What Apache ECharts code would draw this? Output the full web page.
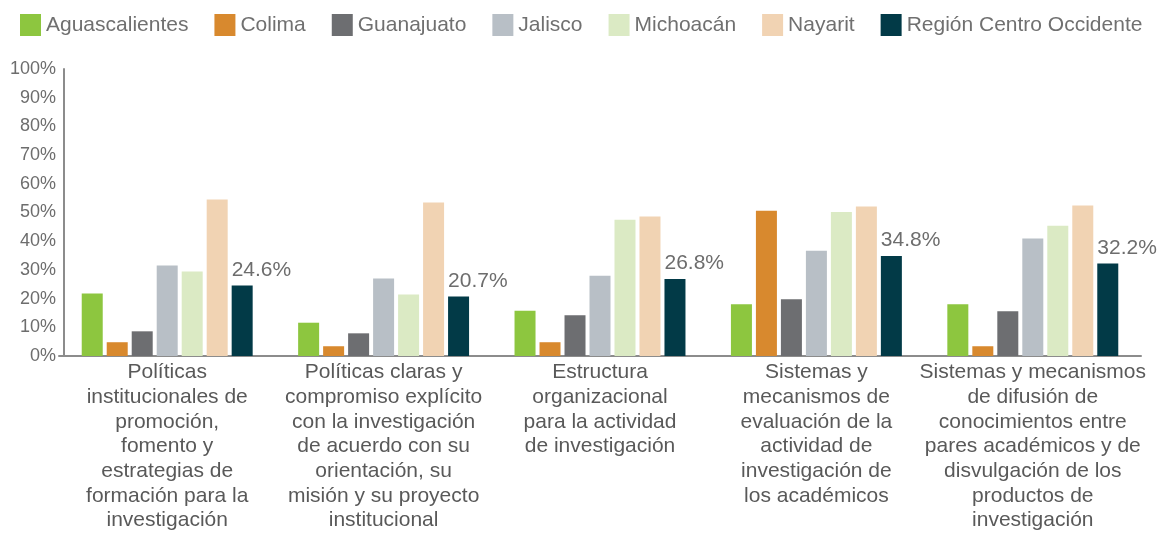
<!DOCTYPE html>
<html>
<head>
<meta charset="utf-8">
<script src="https://cdn.jsdelivr.net/npm/echarts@6/dist/echarts.min.js"></script>
<style>
  html, body { margin: 0; padding: 0; background: #fff; }
  #chart { width: 1160px; height: 533px; }
</style>
</head>
<body>
<div id="chart"></div>
<script>
// categorías del eje x (con saltos de línea como en el original)
const categories = [
  'Políticas\ninstitucionales de\npromoción,\nfomento y\nestrategias de\nformación para la\ninvestigación',
  'Políticas claras y\ncompromiso explícito\ncon la investigación\nde acuerdo con su\norientación, su\nmisión y su proyecto\ninstitucional',
  'Estructura\norganizacional\npara la actividad\nde investigación',
  'Sistemas y\nmecanismos de\nevaluación de la\nactividad de\ninvestigación de\nlos académicos',
  'Sistemas y mecanismos\nde difusión de\nconocimientos entre\npares académicos y de\ndisvulgación de los\nproductos de\ninvestigación'
]

const aguascalientes = [21.8, 11.6, 15.8, 18.0, 18.0]
const colima = [4.8, 3.4, 4.8, 50.6, 3.4]
const guanajuato = [8.6, 7.9, 14.2, 19.8, 15.6]
const jalisco = [31.5, 27.0, 28.0, 36.7, 40.9]
const michoacan = [29.4, 21.4, 47.5, 50.2, 45.4]
const nayarit = [54.5, 53.5, 48.6, 52.1, 52.4]
const region = [24.6, 20.7, 26.8, 34.8, 32.2]

const yTicks = { min: 0, max: 100, interval: 10 }

const names = ['Aguascalientes', 'Colima', 'Guanajuato', 'Jalisco', 'Michoacán', 'Nayarit', 'Región Centro Occidente']
const colors = ['#8dc63f', '#d8892e', '#6d6e71', '#b8bfc6', '#dbeac4', '#f1d3b3', '#023a47']
const values = [aguascalientes, colima, guanajuato, jalisco, michoacan, nayarit, region]

const font = 'Liberation Sans, Arial, sans-serif'

const series = names.map((name, i) => {
  const s = {
    name: name,
    type: 'bar',
    data: values[i],
    barWidth: 21,
    barGap: '19%',
    itemStyle: { color: colors[i] }
  }
  if (i === names.length - 1) {
    s.label = {
      show: true,
      position: 'top',
      align: 'left',
      offset: [-10.5, 0],
      fontFamily: font,
      fontSize: 21,
      color: '#6d6d6d',
      formatter: p => p.value.toFixed(1) + '%'
    }
  }
  return s
})

const chart = echarts.init(document.getElementById('chart'))
chart.setOption({
  animation: false,
  legend: {
    top: 9,
    left: 15,
    itemWidth: 21,
    itemHeight: 22,
    itemGap: 26,
    icon: 'rect',
    textStyle: { fontFamily: font, fontSize: 21, color: '#707070' },
    data: names
  },
  grid: { left: 59, right: 19, top: 69, bottom: 177 },
  xAxis: {
    type: 'category',
    data: categories,
    axisLine: { lineStyle: { color: '#8c8c8c', width: 2 } },
    axisTick: { show: false },
    axisLabel: {
      interval: 0,
      margin: 4,
      fontFamily: font,
      fontSize: 21,
      lineHeight: 24.7,
      color: '#595959',
      align: 'center'
    }
  },
  yAxis: {
    type: 'value',
    min: yTicks.min,
    max: yTicks.max,
    interval: yTicks.interval,
    offset: -5,
    axisLine: { show: true, lineStyle: { color: '#8c8c8c', width: 2 } },
    axisTick: { show: false },
    splitLine: { show: false },
    axisLabel: {
      margin: 8,
      fontFamily: font,
      fontSize: 18,
      color: '#6d6d6d',
      padding: [0, 0, 8, 0],
      formatter: '{value}%'
    }
  },
  series: series
})
</script>
</body>
</html>
